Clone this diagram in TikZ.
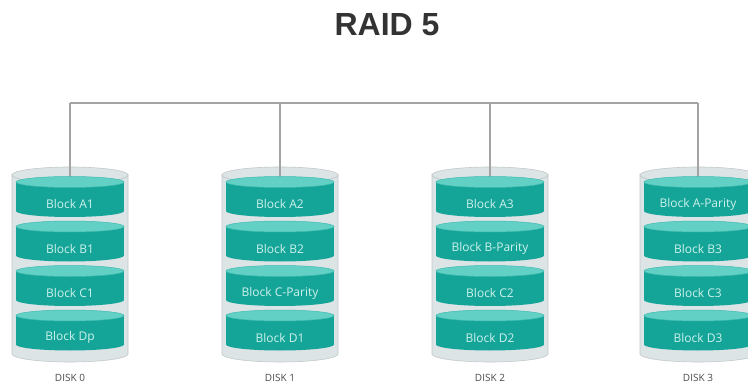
\documentclass[tikz,border=0pt]{standalone}
\usepackage{fontspec}
\setmainfont{Open Sans}
\newfontfamily\titlefont{Liberation Sans}
\definecolor{outerfill}{HTML}{DDE4E6}
\definecolor{outerline}{HTML}{C3C9CB}
\definecolor{tealbody}{HTML}{15A498}
\definecolor{tealtop}{HTML}{62D0C5}
\definecolor{tealrim}{HTML}{3FBCB0}
\definecolor{blocktext}{HTML}{CDF2EC}
\definecolor{wire}{HTML}{A3A3A3}
\definecolor{titlegray}{HTML}{333333}
\definecolor{labelgray}{HTML}{4A4A4A}
\tikzset{
  blocklabel/.style={text=blocktext, font=\fontsize{12}{13}\selectfont, inner sep=0pt},
  disklabel/.style={text=labelgray, font=\fontsize{10}{11}\selectfont, inner sep=0pt},
  wireline/.style={draw=wire, line width=1.1pt},
}
\begin{document}
\begin{tikzpicture}[x=1pt,y=-1pt]
\useasboundingbox (0,0) rectangle (748,388);
\fill[white] (0,0) rectangle (748,388);
\node[text=titlegray, font=\titlefont\bfseries\fontsize{32}{34}\selectfont, inner sep=0pt] (title) at (387,25) {RAID 5};
\coordinate (bus0) at (70,103);
\coordinate (bus3) at (698,103);
\draw[wireline] (bus0) -- (bus3);
\foreach \i/\cx/\la/\lb/\lc/\ld in {
  0/70/Block A1/Block B1/Block C1/Block Dp,
  1/280/Block A2/Block B2/Block C-Parity/Block D1,
  2/490/Block A3/Block B-Parity/Block C2/Block D2,
  3/698/Block A-Parity/Block B3/Block C3/Block D3}{
  % outer cylinder
  \path[fill=outerfill, draw=outerline, line width=0.6pt]
    (\cx-58,175) -- (\cx-58,354) arc[start angle=180, end angle=0, x radius=58, y radius=8]
    -- (\cx+58,175) arc[start angle=0, end angle=180, x radius=58, y radius=8] -- cycle;
  \path[fill=outerfill, draw=outerline, line width=0.6pt] (\cx,175) ellipse[x radius=58, y radius=8];
  \coordinate (top\i) at (\cx,182);
  \coordinate (tap\i) at (\cx,103);
  \draw[wireline] (tap\i) -- (top\i);
  % inner segments
  \foreach \k/\txt in {0/\la,1/\lb,2/\lc,3/\ld}{
    \pgfmathsetmacro\yt{182+44.5*\k}
    \pgfmathsetmacro\yb{211+44.5*\k}
    \fill[tealbody] (\cx-54,\yt) rectangle (\cx+54,\yb);
    \fill[tealbody] (\cx,\yb) ellipse[x radius=54, y radius=6];
    \path[fill=tealtop, draw=tealrim, line width=0.5pt] (\cx,\yt) ellipse[x radius=54, y radius=5.5];
    \node[blocklabel] (b\i\k) at (\cx,\yt+22) {\txt};
  }
  \node[disklabel] (disk\i) at (\cx,378) {DISK \i};
}
\end{tikzpicture}
\end{document}
